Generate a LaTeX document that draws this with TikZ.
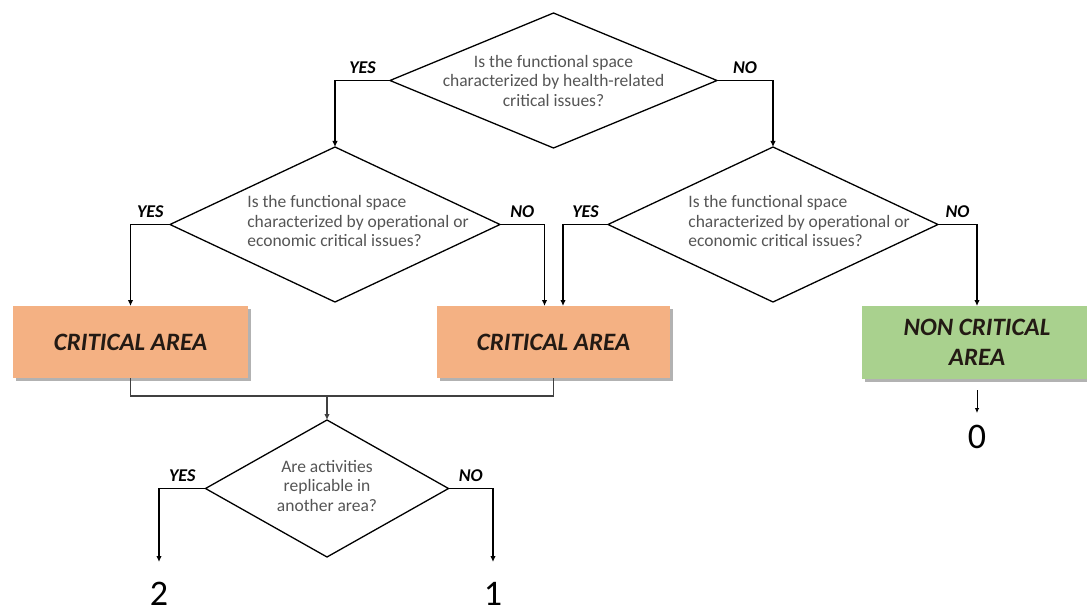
\documentclass[tikz,border=0pt]{standalone}
\usepackage{fontspec}
\setmainfont{Carlito}
\usetikzlibrary{shapes.geometric,arrows.meta,shadows}
\definecolor{qgray}{HTML}{555555}
\definecolor{orangefill}{HTML}{F4B183}
\definecolor{greenfill}{HTML}{A9D18E}
\definecolor{linkgray}{HTML}{404040}
\definecolor{areatext}{HTML}{231A14}
\begin{document}
\begin{tikzpicture}[x=1pt,y=-1pt,
  dec/.style={shape=diamond, draw=black, line width=1.3pt, fill=white, inner sep=0pt, outer sep=0pt},
  qtext/.style={font=\fontsize{17.5}{19.5}\selectfont, text=qgray, inner sep=0pt},
  ans/.style={font=\fontsize{18}{20}\selectfont\bfseries\itshape, inner sep=1pt, above=5pt},
  area/.style={draw=none, inner sep=0pt, outer sep=0pt, align=center, text=areatext,
    font=\fontsize{25}{30.5}\selectfont\bfseries\itshape,
    drop shadow={shadow xshift=2.5pt, shadow yshift=-3pt, opacity=0.3, fill=black}},
  conn/.style={draw=black, line width=1.4pt, -{Latex[length=6pt,width=5.5pt]}},
  merge/.style={draw=linkgray, line width=1.3pt},
  thinarr/.style={draw=black, line width=0.9pt, -{Latex[length=5pt,width=4.5pt]}, shorten <=11pt},
  digit/.style={font=\fontsize{36}{40}\selectfont, inner sep=0pt},
]
\useasboundingbox (0,0) rectangle (1087,615);

% decisions
\node[dec, minimum width=327pt, minimum height=135pt,
  label={[qtext, align=center]center:{Is the functional space\\characterized by health-related\\critical issues?}}]
  (d1) at (553.5,80.5) {};
\node[dec, minimum width=330pt, minimum height=155pt,
  label={[qtext, align=left, xshift=23pt, yshift=3.5pt]center:{Is the functional space\\characterized by operational or\\economic critical issues?}}]
  (d2) at (335,224.5) {};
\node[dec, minimum width=330pt, minimum height=155pt,
  label={[qtext, align=left, xshift=26pt, yshift=3.5pt]center:{Is the functional space\\characterized by operational or\\economic critical issues?}}]
  (d3) at (773,224.5) {};
\node[dec, minimum width=243pt, minimum height=137pt,
  label={[qtext, align=center, yshift=2.5pt]center:{Are activities\\replicable in\\another area?}}]
  (d4) at (327,488.5) {};

% areas
\node[area, fill=orangefill, minimum width=235pt, minimum height=72pt] (b1) at (130.5,342) {CRITICAL AREA};
\node[area, fill=orangefill, minimum width=233pt, minimum height=72pt] (b2) at (553.5,342) {CRITICAL AREA};
\node[area, fill=greenfill, minimum width=230pt, minimum height=73pt] (b3) at (977,342.5) {NON CRITICAL\\AREA};

% connectors
\draw[conn] (d1.west) -| node[ans, pos=0.25] {YES} (d2.north);
\draw[conn] (d1.east) -| node[ans, pos=0.25] {NO} (d3.north);
\draw[conn] (d2.west) -| node[ans, pos=0.25] {YES} (b1.north);
\draw[conn] (d2.east) -| node[ans, pos=0.25] {NO} ([xshift=-9pt]b2.north);
\draw[conn] (d3.west) -| node[ans, pos=0.25] {YES} ([xshift=9.5pt]b2.north);
\draw[conn] (d3.east) -| node[ans, pos=0.25] {NO} (b3.north);

\coordinate (m) at (327,396);
\draw[merge] (b1.south) |- (m) -| (b2.south);
\draw[merge, -{Latex[length=6pt,width=5.5pt]}] (m) -- (d4.north);

\coordinate (e2) at (159,562);
\coordinate (e1) at (493,562);
\draw[conn] (d4.west) -| node[ans, pos=0.25] {YES} (e2);
\draw[conn] (d4.east) -| node[ans, pos=0.25] {NO} (e1);

\coordinate (e0) at (977,413);
\draw[thinarr] (b3.south) -- (e0);

% outcomes
\node[digit] (n2) at (159,594) {2};
\node[digit] (n1) at (493,594) {1};
\node[digit] (n0) at (977,437) {0};
\end{tikzpicture}
\end{document}
